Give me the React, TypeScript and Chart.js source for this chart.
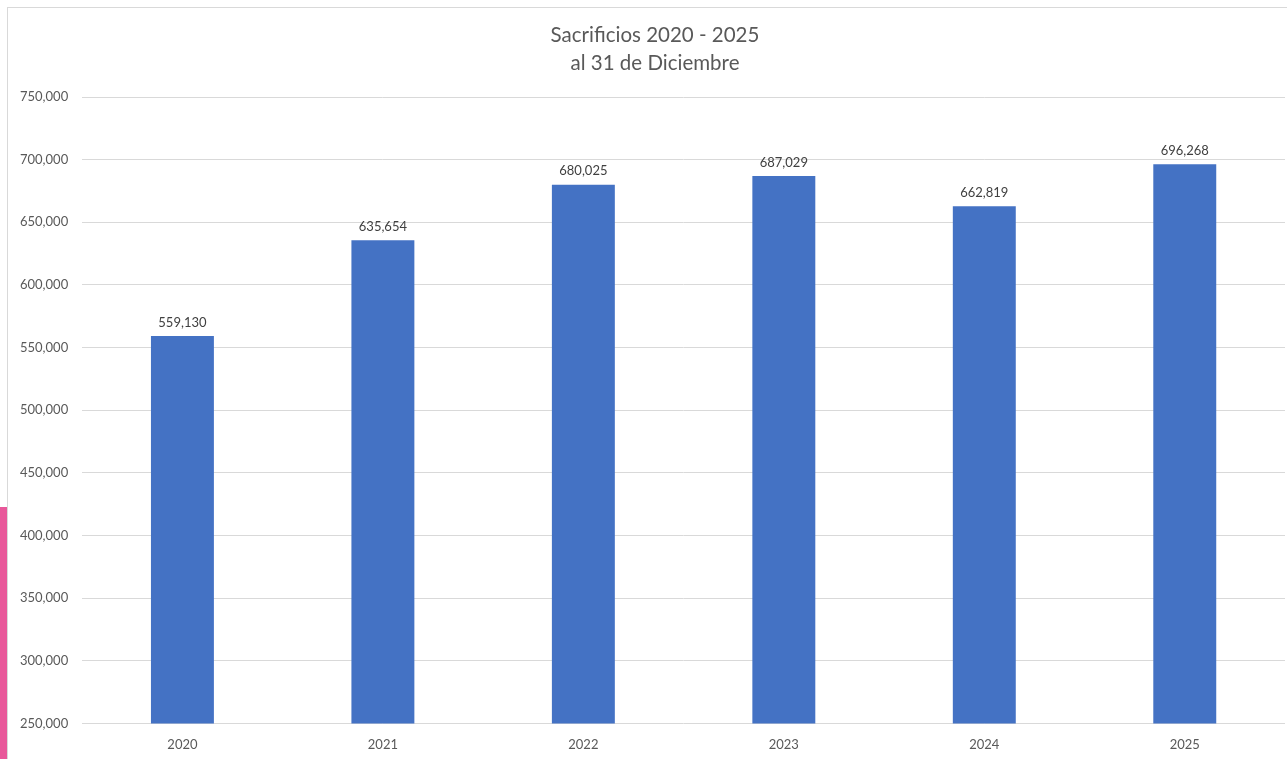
import React, { useEffect, useRef } from "react";
import { Chart, registerables } from "chart.js";

Chart.register(...registerables);

const categories = ["2020", "2021", "2022", "2023", "2024", "2025"];
const values = [559130, 635654, 680025, 687029, 662819, 696268];
const titleLines = ["Sacrificios 2020 - 2025", "al 31 de Diciembre"];
const yMin = 250000;
const yMax = 750000;
const yStep = 50000;

const FONT = "Lato, 'Open Sans', sans-serif";

const fmt = (v: number) => v.toLocaleString("en-US");

const labelPlugin = {
  id: "barLabels",
  afterDatasetsDraw(chart: any) {
    const { ctx } = chart;
    const meta = chart.getDatasetMeta(0);
    ctx.save();
    ctx.font = `13px ${FONT}`;
    ctx.fillStyle = "#404040";
    ctx.textAlign = "center";
    ctx.textBaseline = "bottom";
    meta.data.forEach((bar: any, i: number) => {
      ctx.fillText(fmt(values[i]), bar.x, bar.y - 7);
    });
    ctx.restore();
  },
};

const titlePlugin = {
  id: "customTitle",
  afterDraw(chart: any) {
    const { ctx } = chart;
    ctx.save();
    ctx.font = `20.5px ${FONT}`;
    ctx.fillStyle = "#595959";
    ctx.textAlign = "center";
    ctx.textBaseline = "middle";
    titleLines.forEach((t, i) => {
      ctx.fillText(t, 649, 27 + i * 28);
    });
    ctx.restore();
  },
};

export default function App() {
  const ref = useRef<HTMLCanvasElement | null>(null);
  useEffect(() => {
    if (!ref.current) return;
    const chart = new Chart(ref.current, {
      type: "bar",
      data: {
        labels: categories,
        datasets: [
          {
            data: values,
            backgroundColor: "#4472C4",
            borderWidth: 0,
            barPercentage: 0.314,
            categoryPercentage: 1,
          },
        ],
      },
      options: {
        animation: false,
        responsive: false,
        maintainAspectRatio: false,
        layout: { padding: { left: 0, right: 19, top: 89, bottom: 0 } },
        plugins: {
          legend: { display: false },
          tooltip: { enabled: false },
          title: { display: false },
        },
        scales: {
          x: {
            grid: { display: false, drawTicks: false },
            border: { display: false },
            ticks: {
              color: "#595959",
              font: { family: FONT, size: 13 },
              padding: 14,
            },
          },
          y: {
            min: yMin,
            max: yMax,
            grid: { color: "#d9d9d9", drawTicks: false, lineWidth: 1 },
            border: { display: false },
            ticks: {
              stepSize: yStep,
              color: "#595959",
              font: { family: FONT, size: 13 },
              padding: 14,
              callback: (v: any) => fmt(Number(v)),
            },
          },
        },
      },
      plugins: [labelPlugin, titlePlugin],
    });
    return () => chart.destroy();
  }, []);

  return (
    <div
      style={{
        position: "fixed",
        left: 0,
        top: 0,
        width: 1287,
        height: 759,
        overflow: "hidden",
        background: "#ffffff",
      }}
    >
      <div
        style={{
          position: "absolute",
          left: 7,
          top: 7,
          width: 1300,
          height: 760,
          borderTop: "1px solid #d9d9d9",
          borderLeft: "1px solid #d9d9d9",
        }}
      />
      <div
        style={{
          position: "absolute",
          left: 0,
          top: 507,
          width: 7,
          height: 252,
          background: "#E8589A",
        }}
      />
      <canvas
        ref={ref}
        width={1298}
        height={759}
        style={{ position: "absolute", left: 6, top: 8, width: 1298, height: 759 }}
      />
    </div>
  );
}
